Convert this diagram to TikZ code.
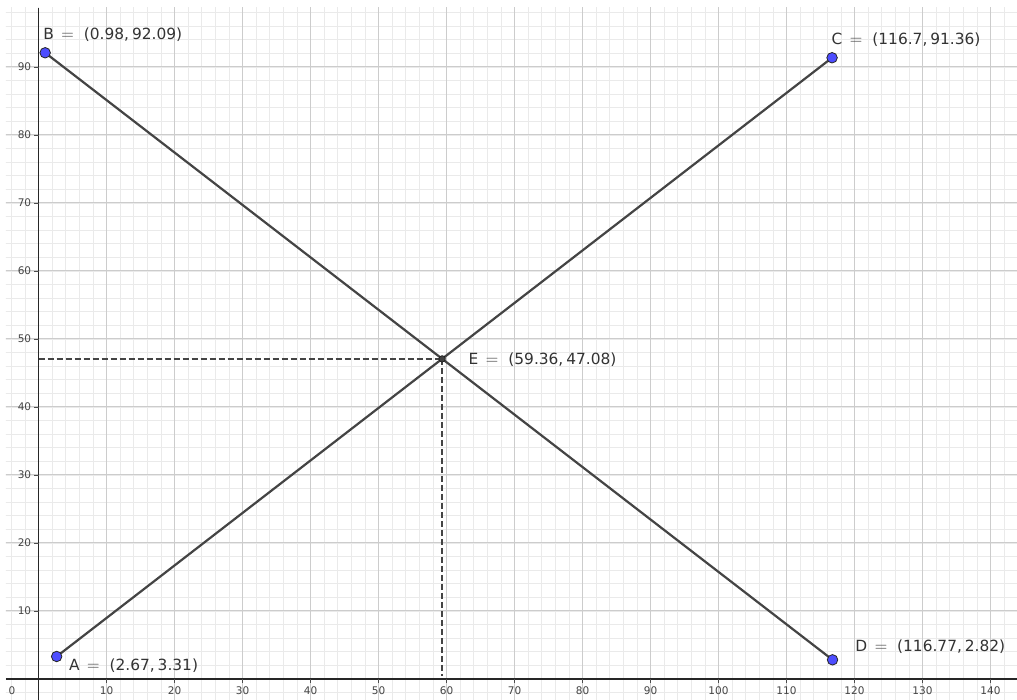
\documentclass[tikz,border=0pt]{standalone}
\usepackage{fontspec}
\setmainfont{DejaVu Sans}
\definecolor{gridminor}{RGB}{234,234,234}
\definecolor{gridmajor}{RGB}{204,204,204}
\definecolor{ptblue}{RGB}{77,77,255}
\definecolor{segcol}{RGB}{68,68,68}
\definecolor{labeltext}{RGB}{51,51,51}
\definecolor{ticktext}{RGB}{68,68,68}
\newcommand{\ptlab}[3]{#1\hspace{7.5pt}{\fontsize{17.5}{17.5}\selectfont$=$}\hspace{10pt}(#2,\hspace{3pt}#3)}
\begin{document}
\begin{tikzpicture}[x=6.8pt,y=6.8pt,
  minorgrid/.style={draw=gridminor, line width=0.8pt},
  majorgrid/.style={draw=gridmajor, line width=1pt},
  axisline/.style={draw=black!85, line width=1.2pt},
  tickmark/.style={draw=black!70, line width=0.9pt},
  ticklabel/.style={text=ticktext, font=\fontsize{10.5}{10.5}\selectfont, inner sep=0pt},
  seg/.style={draw=segcol, line width=2.2pt},
  helper/.style={draw=segcol, line width=1.8pt, dash pattern=on 6pt off 3pt},
  bluept/.style={circle, fill=ptblue, draw=black!85, line width=0.8pt, minimum size=10.5pt, inner sep=0pt},
  interpt/.style={circle, fill=black!75, draw=black!90, line width=0.6pt, minimum size=6.5pt, inner sep=0pt},
  ptlabel/.style={text=labeltext, font=\fontsize{15.4}{15.4}\selectfont, inner sep=0pt, anchor=base west}]
\fill[white] (-5.662,-3.088) rectangle (143.897,99.853);
\useasboundingbox (-5.662,-3.088) rectangle (143.897,99.853);
% grid
\begin{scope}
\clip (-4.78,-3.088) rectangle (143.897,98.68);
\foreach \x in {-4,-2,...,142} \draw[minorgrid] (\x,-4) -- (\x,100);
\foreach \y in {-2,0,...,98} \draw[minorgrid] (-6,\y) -- (145,\y);
\foreach \x in {10,20,...,140} \draw[majorgrid] (\x,-4) -- (\x,100);
\foreach \y in {10,20,...,90} \draw[majorgrid] (-6,\y) -- (145,\y);
\end{scope}
% axes
\coordinate (xl) at (-4.78,0);
\coordinate (xr) at (143.897,0);
\coordinate (yb) at (0,-3.088);
\coordinate (yt) at (0,98.68);
\draw[axisline] (xl) -- (xr);
\draw[axisline] (yb) -- (yt);
\foreach \x in {10,20,...,140} {
  \coordinate (tx\x) at (\x,0);
  \draw[tickmark] (tx\x) -- ++(0,-0.6);
  \node[ticklabel] (lx\x) at (\x,-1.65) {\x};
}
\foreach \y in {10,20,...,90} {
  \coordinate (ty\y) at (0,\y);
  \draw[tickmark] (ty\y) -- ++(-0.7,0);
  \node[ticklabel, anchor=east] (ly\y) at (-1.05,\y) {\y};
}
\node[ticklabel] (l0) at (-3.9,-1.65) {0};
% points
\coordinate (pA) at (2.67,3.31);
\coordinate (pB) at (0.98,92.09);
\coordinate (pC) at (116.7,91.36);
\coordinate (pD) at (116.77,2.82);
\coordinate (pE) at (59.36,47.08);
\coordinate (Ex) at (59.36,0.4);
\coordinate (Ey) at (0,47.08);
\draw[helper] (Ey) -- (pE);
\draw[helper] (pE) -- (Ex);
\draw[seg] (pA) -- (pC);
\draw[seg] (pB) -- (pD);
\node[bluept] (A) at (pA) {};
\node[bluept] (B) at (pB) {};
\node[bluept] (C) at (pC) {};
\node[bluept] (D) at (pD) {};
\node[interpt] (E) at (pE) {};
% labels
\node[ptlabel] (LA) at (4.47,1.22) {\ptlab{A}{2.67}{3.31}};
\node[ptlabel] (LB) at (0.69,93.97) {\ptlab{B}{0.98}{92.09}};
\node[ptlabel] (LC) at (116.62,93.34) {\ptlab{C}{116.7}{91.36}};
\node[ptlabel] (LD) at (120.1,4.01) {\ptlab{D}{116.77}{2.82}};
\node[ptlabel] (LE) at (63.24,46.28) {\ptlab{E}{59.36}{47.08}};
\end{tikzpicture}
\end{document}
